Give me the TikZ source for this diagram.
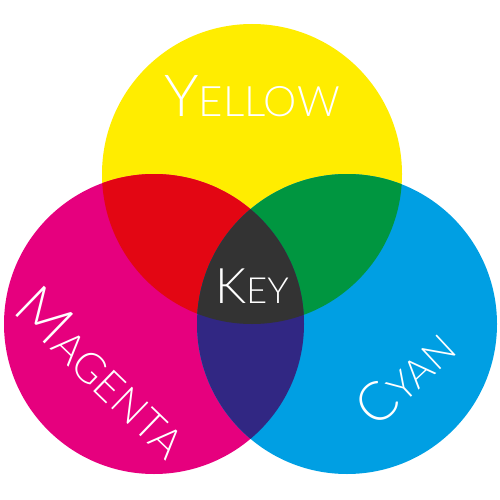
\documentclass[tikz,border=0pt]{standalone}
\usepackage{fontspec}
\IfFontExistsTF{Lato Light}{\newfontfamily\lblfont{Lato Light}}{\newfontfamily\lblfont{Lato}}
\definecolor{cY}{HTML}{FFED00}
\definecolor{cM}{HTML}{E6007E}
\definecolor{cC}{HTML}{009FE3}
\definecolor{cR}{HTML}{E30613}
\definecolor{cG}{HTML}{009640}
\definecolor{cB}{HTML}{312783}
\definecolor{cK}{HTML}{333333}
\newcommand\myscaps[4]{{\lblfont\fontsize{#1}{#1}\selectfont #3}{\lblfont\fontsize{#2}{#2}\selectfont #4}}
\tikzset{lbl/.style={text=white, inner sep=0pt, outer sep=0pt}}
\begin{document}
\begin{tikzpicture}[x=1pt,y=-1pt]
\useasboundingbox (0,0) rectangle (500,500);
\def\circY{(252,174) circle (150)}
\def\circM{(154,324) circle (150)}
\def\circC{(347,324) circle (150)}
\fill[cY] \circY;
\fill[cM] \circM;
\fill[cC] \circC;
\begin{scope}\clip \circY; \fill[cR] \circM; \end{scope}
\begin{scope}\clip \circY; \fill[cG] \circC; \end{scope}
\begin{scope}\clip \circM; \fill[cB] \circC; \end{scope}
\begin{scope}\clip \circY; \clip \circM; \fill[cK] \circC; \end{scope}
\node[lbl, anchor=base] (yellow) at (252,117) {\myscaps{58}{42}{Y}{ELLOW}};
\node[lbl, anchor=base] (key) at (252,303) {\myscaps{49}{36}{K}{EY}};
\node[lbl, rotate=-44] (magenta) at (103,372) {\myscaps{58}{42}{M}{AGENTA}};
\node[lbl, rotate=43] (cyan) at (405,377) {\myscaps{54}{39}{C}{YAN}};
\end{tikzpicture}
\end{document}
